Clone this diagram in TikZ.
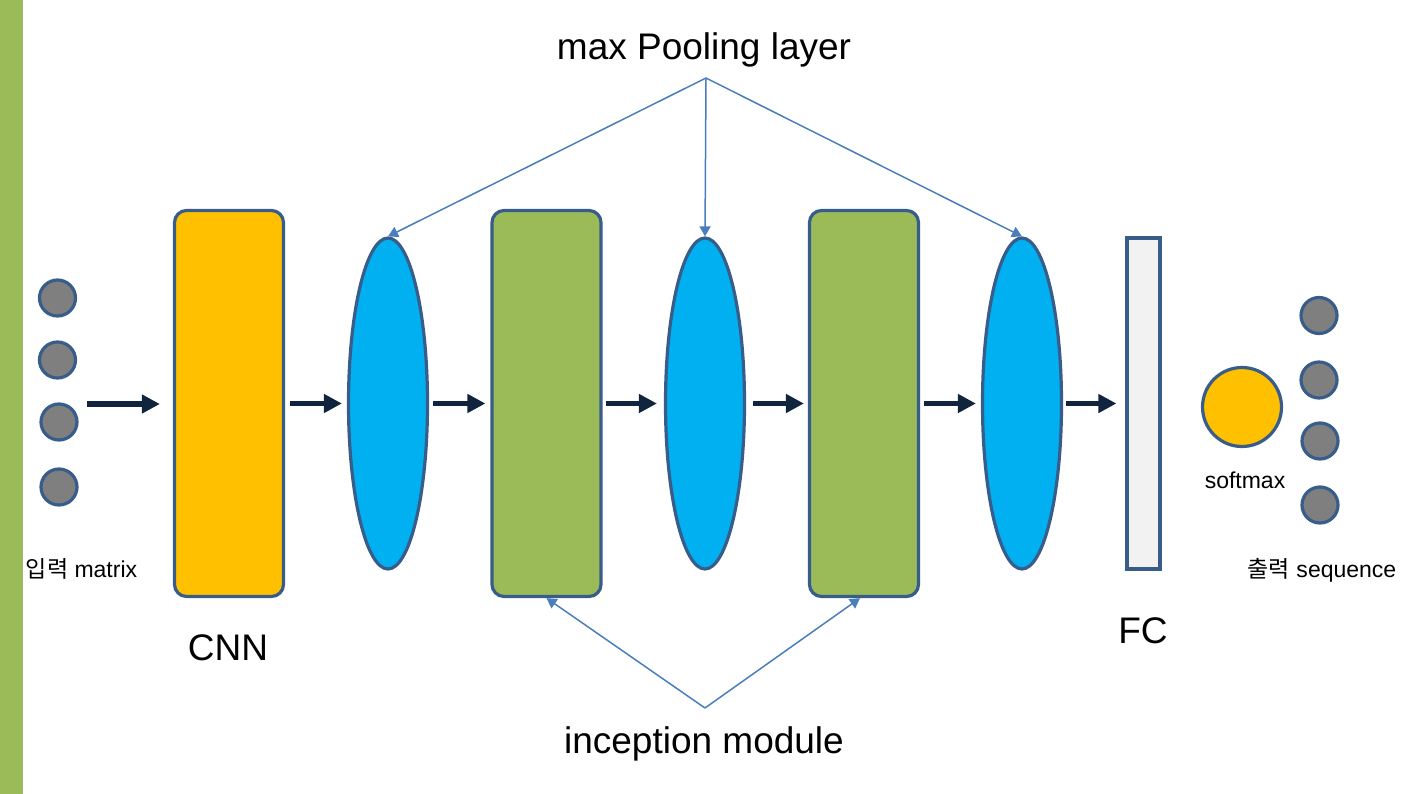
\documentclass[tikz,border=0pt]{standalone}
\usepackage{fontspec}
\setmainfont{Liberation Sans}
\newfontfamily\cjk{Noto Sans CJK KR}
\usetikzlibrary{arrows.meta,shapes.geometric}
\definecolor{edgeblue}{HTML}{385D8A}
\definecolor{navy}{HTML}{10243E}
\definecolor{linkblue}{HTML}{4A7EBB}
\definecolor{leafgreen}{HTML}{9BBB59}
\definecolor{amber}{HTML}{FFC000}
\definecolor{skyblue}{HTML}{00B0F0}
\definecolor{dotgray}{HTML}{7F7F7F}
\definecolor{fcgray}{HTML}{F2F2F2}
\tikzset{
  layerbox/.style={draw=edgeblue, line width=3.2pt, rounded corners=12pt, minimum width=109pt, minimum height=386pt, inner sep=0pt},
  poolell/.style={ellipse, draw=edgeblue, line width=3.2pt, fill=skyblue, minimum width=79pt, minimum height=331pt, inner sep=0pt},
  dot/.style={circle, draw=edgeblue, line width=3.2pt, fill=dotgray, minimum size=36pt, inner sep=0pt},
  flow/.style={navy, line width=5.5pt, -{Triangle[length=18pt,width=18pt]}},
  link/.style={linkblue, line width=1.5pt, -{Triangle[length=10pt,width=11pt]}},
  bigtxt/.style={font=\fontsize{37}{44}\selectfont, inner sep=0pt, anchor=base},
  smalltxt/.style={font=\fontsize{23}{27}\selectfont, inner sep=0pt, anchor=base}
}
\begin{document}
\begin{tikzpicture}[x=1pt,y=-1pt]
\useasboundingbox (0,0) rectangle (1415,794);
\fill[leafgreen] (0,0) rectangle (23,794);

% input dots
\node[dot] (i1) at (57.5,298) {};
\node[dot] (i2) at (57.5,360) {};
\node[dot] (i3) at (59,422) {};
\node[dot] (i4) at (59,487) {};
\node[smalltxt] (inlbl) at (81.5,577) {{\cjk 입력} matrix};

% layers
\node[layerbox, fill=amber] (cnn) at (229,403.5) {};
\node[poolell] (e1) at (388,403.5) {};
\node[layerbox, fill=leafgreen] (g1) at (546.5,403.5) {};
\node[poolell] (e2) at (705,403.5) {};
\node[layerbox, fill=leafgreen] (g2) at (864,403.5) {};
\node[poolell] (e3) at (1022,403.5) {};
\node[draw=edgeblue, line width=3.2pt, fill=fcgray, minimum width=33pt, minimum height=331pt, inner sep=0pt] (fc) at (1143.5,403.5) {};

% softmax and outputs
\node[circle, draw=edgeblue, line width=3.2pt, fill=amber, minimum size=79pt, inner sep=0pt] (sm) at (1242,407) {};
\node[smalltxt] (smlbl) at (1245,488) {softmax};
\node[dot] (o1) at (1319,315.5) {};
\node[dot] (o2) at (1319,380) {};
\node[dot] (o3) at (1320,441) {};
\node[dot] (o4) at (1320,505) {};
\node[smalltxt] (outlbl) at (1322,577) {{\cjk 출력} sequence};

% big labels
\node[bigtxt] (maxlbl) at (704,60) {max Pooling layer};
\node[bigtxt] (inclbl) at (704,753) {inception module};
\node[bigtxt] (cnnlbl) at (228,660) {CNN};
\node[bigtxt] (fclbl) at (1143,643) {FC};

% flow arrows
\coordinate (instart) at (87,404);
\draw[flow, shorten >=13pt] (instart) -- (cnn.west |- instart);
\draw[flow, shorten <=5pt, shorten >=5pt] (cnn.east) -- (e1.west);
\draw[flow, shorten <=4pt, shorten >=5pt] (e1.east) -- (g1.west);
\draw[flow, shorten <=3pt, shorten >=7pt] (g1.east) -- (e2.west);
\draw[flow, shorten <=7pt, shorten >=4pt] (e2.east) -- (g2.west);
\draw[flow, shorten <=4pt, shorten >=5pt] (g2.east) -- (e3.west);
\draw[flow, shorten <=3pt, shorten >=9pt] (e3.east) -- (fc.west);

% pooling links
\coordinate (ptop) at (706,78);
\draw[link] (ptop) -- (e1.north);
\draw[link] (ptop) -- (e2.north);
\draw[link] (ptop) -- (e3.north);

% inception links
\coordinate (pbot) at (705,708);
\draw[link] (pbot) -- (g1.south);
\draw[link] (pbot) -- ([xshift=-4pt]g2.south);
\end{tikzpicture}
\end{document}
